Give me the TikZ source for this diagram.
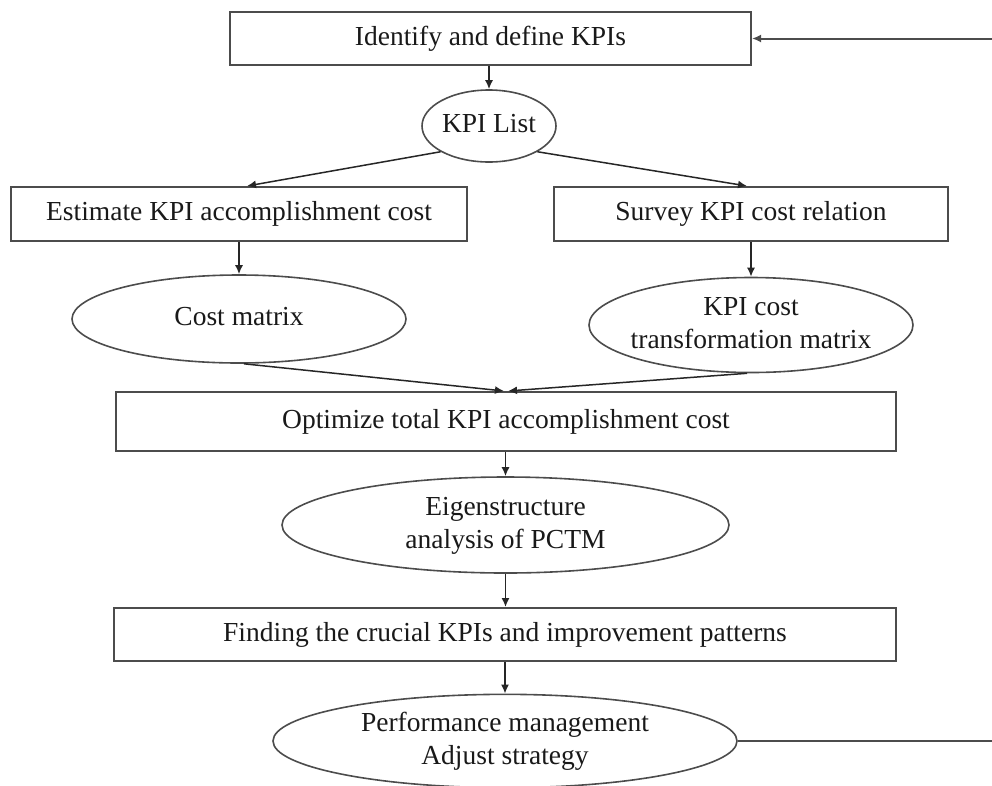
\documentclass[tikz,border=0pt]{standalone}
\usepackage{fontspec}
\setmainfont{Liberation Serif}
\usetikzlibrary{shapes.geometric,arrows.meta}

% zero-width, centred text block so that the ellipse keeps the size given
\newcommand{\ctext}[1]{\makebox[0pt]{\begin{tabular}{@{}c@{}}#1\end{tabular}}}

\begin{document}
\begin{tikzpicture}[x=1pt,y=-1pt,
  every node/.style={font=\fontsize{27.5}{33}\selectfont, text=black!90},
  procbox/.style={draw=black!70, line width=2pt, rectangle, inner sep=0pt},
  databubble/.style={draw=black!70, line width=1.6pt, ellipse, inner sep=0pt},
  tip/.style={-{Latex[length=9pt,width=8pt]}},
  arr/.style={draw=black!85, line width=1.5pt, tip},
  fbline/.style={draw=black!70, line width=2pt}
]
\useasboundingbox (0,0) rectangle (992,785);

% process steps
\node[procbox, minimum width=521pt, minimum height=53pt] (top) at (490.5,38.5) {Identify and define KPIs};
\node[databubble, minimum width=134pt, minimum height=72pt] (kpi) at (489,126) {\ctext{KPI List}};
\node[procbox, minimum width=456pt, minimum height=54pt] (est) at (239,214) {Estimate KPI accomplishment cost};
\node[procbox, minimum width=394pt, minimum height=54pt] (surv) at (751,214) {Survey KPI cost relation};
\node[databubble, minimum width=334pt, minimum height=88pt] (cost) at (239,319) {\ctext{Cost matrix}};
\node[databubble, minimum width=324pt, minimum height=95pt] (kct) at (751,325) {\ctext{KPI cost\\transformation matrix}};
\node[procbox, minimum width=780pt, minimum height=59pt] (opt) at (506,421.5) {Optimize total KPI accomplishment cost};
\node[databubble, minimum width=447pt, minimum height=96pt] (eig) at (505.5,525) {\ctext{Eigenstructure\\analysis of PCTM}};
\node[procbox, minimum width=782pt, minimum height=53pt] (find) at (505,634.5) {Finding the crucial KPIs and improvement patterns};
\node[databubble, minimum width=464pt, minimum height=90pt] (perf) at (505,741) {\ctext{Performance management\\Adjust strategy}};

% ends of the feedback loop at the right border
\coordinate (fbR) at (992,741);
\coordinate (fbT) at (992,38.5);

% connectors
\draw[arr] (top.south -| kpi.north) -- (kpi.north);
\draw[arr] (kpi.208) -- ([xshift=8pt]est.north);
\draw[arr] (kpi.332) -- ([xshift=-4pt]surv.north);
\draw[arr] (est.south) -- (cost.north);
\draw[arr] (surv.south) -- (kct.north);
\draw[arr] ([xshift=5pt]cost.south) -- ([xshift=-2pt]opt.north);
\draw[arr] ([xshift=-4pt]kct.south) -- ([xshift=2pt]opt.north);
\draw[arr] (opt.south -| eig.north) -- (eig.north);
\draw[arr] (eig.south) -- (find.north -| eig.south);
\draw[arr] (find.south -| perf.north) -- (perf.north);

% feedback loop
\draw[fbline] (perf.east) -- (fbR);
\draw[fbline, tip] (fbT) -- (top.east);
\end{tikzpicture}
\end{document}
